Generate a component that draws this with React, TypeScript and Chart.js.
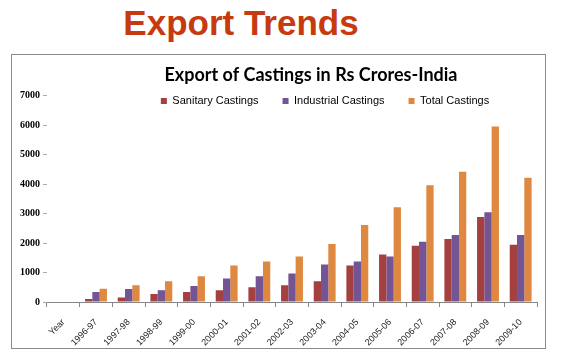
import React, { useEffect, useRef } from "react";
import { Chart, registerables } from "chart.js";

Chart.register(...registerables);

const categories = [
  "Year", "1996-97", "1997-98", "1998-99", "1999-00", "2000-01", "2001-02", "2002-03",
  "2003-04", "2004-05", "2005-06", "2006-07", "2007-08", "2008-09", "2009-10",
];
const sanitary = [null, 100, 150, 270, 340, 400, 500, 570, 700, 1240, 1610, 1910, 2140, 2880, 1940];
const industrial = [null, 340, 440, 400, 540, 800, 870, 970, 1270, 1370, 1540, 2040, 2270, 3040, 2270];
const total = [null, 450, 570, 700, 870, 1240, 1370, 1540, 1970, 2610, 3210, 3960, 4420, 5950, 4210];
const yTicks = [0, 1000, 2000, 3000, 4000, 5000, 6000, 7000];

const placeBoxes = {
  id: "placeBoxes",
  afterLayout(chart: any) {
    const t = chart.titleBlock;
    if (t) {
      const h = t.bottom - t.top;
      t.top = 75 - h / 2;
      t.bottom = t.top + h;
      t.left = 311 - 260;
      t.right = 311 + 260;
    }
    const l = chart.legend;
    if (l) {
      const h = l.bottom - l.top;
      l.top = 101 - 5.5 - 24;
      l.bottom = l.top + h;
      l.left = 325 - 260;
      l.right = 325 + 260;
    }
  },
};

export default function App() {
  const ref = useRef<HTMLCanvasElement | null>(null);
  useEffect(() => {
    if (!ref.current) return;
    const chart = new Chart(ref.current, {
      type: "bar",
      data: {
        labels: categories,
        datasets: [
          { label: "Sanitary Castings", data: sanitary, backgroundColor: "#A4403F" },
          { label: "Industrial Castings", data: industrial, backgroundColor: "#735494" },
          { label: "Total Castings", data: total, backgroundColor: "#DE8840" },
        ],
      },
      options: {
        animation: false,
        responsive: false,
        maintainAspectRatio: false,
        datasets: { bar: { categoryPercentage: 0.67, barPercentage: 1.0 } },
        layout: { padding: { top: 29, left: 10, right: 27, bottom: 12 } },
        plugins: {
          tooltip: { enabled: false },
          title: {
            display: true,
            text: "Export of Castings in Rs Crores-India",
            color: "#000",
            font: { family: "Lato", size: 18, weight: "bold" },
            padding: 0,
          },
          legend: {
            display: true,
            labels: {
              boxWidth: 6,
              boxHeight: 6,
              padding: 24,
              color: "#000",
              font: { family: "Liberation Sans, Arial", size: 11 },
            },
          },
        },
        scales: {
          x: {
            afterFit: (s: any) => { s.height = 48; },
            grid: { offset: true, drawOnChartArea: false, drawTicks: true, tickLength: 5, color: "#868686" },
            border: { display: true, color: "#868686", width: 1 },
            ticks: {
              autoSkip: false,
              maxRotation: 45,
              minRotation: 45,
              padding: 10,
              color: "#222",
              font: { family: "Liberation Sans, Arial", size: 9 },
            },
          },
          y: {
            min: 0,
            max: 7000,
            afterFit: (s: any) => { s.width = 37; },
            afterBuildTicks: (s: any) => { s.ticks = yTicks.map((v) => ({ value: v })); },
            grid: { drawOnChartArea: false, drawTicks: true, tickLength: 4, color: "#aaa" },
            border: { display: false },
            ticks: {
              padding: 3,
              color: "#000",
              callback: (v: any) => String(v),
              font: { family: "Liberation Serif, Times New Roman", size: 10, weight: "bold" },
            },
          },
        },
      },
      plugins: [placeBoxes],
    });
    return () => chart.destroy();
  }, []);

  return (
    <div style={{ position: "absolute", left: 0, top: 0, width: 564, height: 362, background: "#fff" }}>
      <div
        style={{
          position: "absolute", left: 0, top: 5, width: 482, textAlign: "center",
          font: "bold 35px 'Liberation Sans', Arial, sans-serif", lineHeight: "35px", color: "#C63A10",
        }}
      >
        Export Trends
      </div>
      <div
        style={{
          position: "absolute", left: 11, top: 54, width: 535, height: 295,
          border: "1px solid #8a8a8a", boxSizing: "border-box",
        }}
      />
      <canvas ref={ref} width={564} height={362} style={{ position: "absolute", left: 0, top: 0 }} />
    </div>
  );
}
